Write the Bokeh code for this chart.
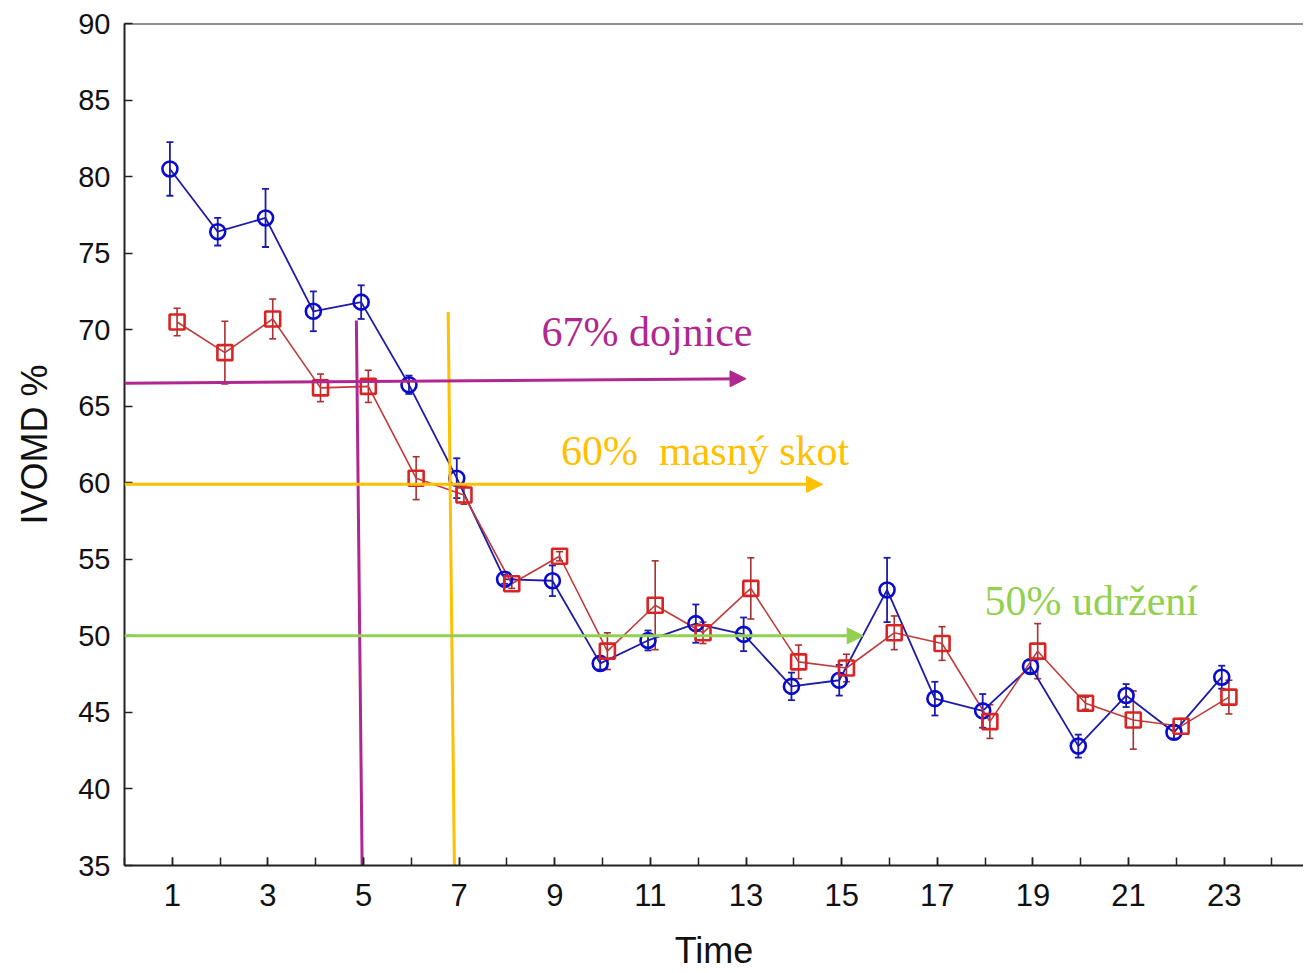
from bokeh.plotting import figure
from bokeh.models import (ColumnDataSource, Whisker, TeeHead, Arrow, NormalHead,
                          Span, Label, FixedTicker, Range1d)
from bokeh.transform import dodge
from bokeh.embed import file_html
from bokeh.resources import INLINE

# ---------------- data ----------------
time = list(range(1, 24))
blue_mean = [80.5, 76.4, 77.3, 71.2, 71.8, 66.4, 60.3, 53.7, 53.6, 48.2, 49.7, 50.8,
             50.1, 46.7, 47.1, 53.0, 45.9, 45.1, 48.0, 42.8, 46.1, 43.7, 47.3]
blue_err = [1.75, 0.9, 1.9, 1.3, 1.1, 0.6, 1.3, 0.3, 1.0, 0.4, 0.65, 1.25,
            1.1, 0.9, 1.0, 2.1, 1.1, 1.1, 0.4, 0.75, 0.75, 0.4, 0.75]
red_mean = [70.5, 68.5, 70.7, 66.2, 66.3, 60.3, 59.2, 53.4, 55.2, 49.0, 52.0, 50.2,
            53.1, 48.3, 47.9, 50.2, 49.5, 44.4, 49.0, 45.6, 44.5, 44.1, 46.0]
red_err = [0.9, 2.05, 1.3, 0.9, 1.05, 1.4, 0.6, 0.3, 0.3, 1.2, 2.9, 0.7,
           2.0, 1.1, 0.9, 1.1, 1.1, 1.1, 1.8, 0.4, 1.9, 0.5, 1.1]

y_ticks = [35, 40, 45, 50, 55, 60, 65, 70, 75, 80, 85, 90]
x_ticks = [1, 3, 5, 7, 9, 11, 13, 15, 17, 19, 21, 23]
x_minor = list(range(0, 26))

# threshold annotations
dojnice_arrow_x = [0, 13.0]
dojnice_arrow_y = [66.5, 66.8]
dojnice_vline_x = [4.85, 4.97]
dojnice_vline_y = [70.6, 35.0]
skot_arrow_x = [0, 14.6]
skot_arrow_y = [59.9, 59.9]
skot_vline_x = [6.77, 6.90]
skot_vline_y = [71.15, 35.0]
udrzeni_arrow_x = [0, 15.45]
udrzeni_arrow_y = [50.0, 50.0]

label_texts = ["67% dojnice", "60%\u00a0 masný skot", "50% udržení"]
label_x = [8.72, 9.13, 17.99]
label_y = [69.85, 62.1, 52.25]

MAGENTA = "#B0288F"
ORANGE = "#FFC000"
GREEN = "#92D050"
BLUE = "#0A0ACF"
BLUE_LINE = "#1C1CA8"
RED = "#D82424"
RED_LINE = "#C03A3A"

# ---------------- figure ----------------
p = figure(width=1303, height=973, output_backend="svg", toolbar_location=None,
           x_range=Range1d(0, 24.66), y_range=Range1d(35, 90),
           min_border_left=124, min_border_right=0, min_border_top=23,
           min_border_bottom=107)
p.outline_line_color = None
p.xgrid.visible = False
p.ygrid.visible = False
p.background_fill_color = "white"

src_b = ColumnDataSource(dict(x=time, y=blue_mean,
                              lo=[m - e for m, e in zip(blue_mean, blue_err)],
                              hi=[m + e for m, e in zip(blue_mean, blue_err)]))
src_r = ColumnDataSource(dict(x=time, y=red_mean,
                              lo=[m - e for m, e in zip(red_mean, red_err)],
                              hi=[m + e for m, e in zip(red_mean, red_err)]))

# lines
p.line(x=dodge("x", -0.05), y="y", source=src_b, line_color=BLUE_LINE, line_width=1.8)
p.line(x=dodge("x", 0.1), y="y", source=src_r, line_color=RED_LINE, line_width=1.6)

# error bars
wb = Whisker(base=dodge("x", -0.05), upper="hi", lower="lo", source=src_b,
             line_color=BLUE_LINE, line_width=1.8,
             upper_head=TeeHead(size=7, line_color=BLUE_LINE, line_width=1.8),
             lower_head=TeeHead(size=7, line_color=BLUE_LINE, line_width=1.8))
wr = Whisker(base=dodge("x", 0.1), upper="hi", lower="lo", source=src_r,
             line_color="#A83030", line_width=1.6,
             upper_head=TeeHead(size=7, line_color="#A83030", line_width=1.6),
             lower_head=TeeHead(size=7, line_color="#A83030", line_width=1.6))
p.add_layout(wb)
p.add_layout(wr)

# markers
p.scatter(x=dodge("x", -0.05), y="y", source=src_b, marker="circle", size=15,
          fill_color=None, line_color=BLUE, line_width=2.6)
p.scatter(x=dodge("x", 0.1), y="y", source=src_r, marker="square", size=15,
          fill_color=None, line_color=RED, line_width=2.6)

# threshold lines
p.line(x=dojnice_vline_x, y=dojnice_vline_y, line_color=MAGENTA, line_width=3)
p.line(x=skot_vline_x, y=skot_vline_y, line_color=ORANGE, line_width=3)

for ax, ay, col in [(dojnice_arrow_x, dojnice_arrow_y, MAGENTA),
                    (skot_arrow_x, skot_arrow_y, ORANGE),
                    (udrzeni_arrow_x, udrzeni_arrow_y, GREEN)]:
    p.add_layout(Arrow(x_start=ax[0], y_start=ay[0], x_end=ax[1], y_end=ay[1],
                       line_color=col, line_width=3,
                       end=NormalHead(size=16, fill_color=col, line_color=col)))

for t, lx, ly, col in zip(label_texts, label_x, label_y, [MAGENTA, ORANGE, GREEN]):
    p.add_layout(Label(x=lx, y=ly, text=t, text_color=col,
                       text_font="Liberation Serif", text_font_size="42px",
                       text_baseline="alphabetic", text_align="left"))

# top border line
p.add_layout(Span(location=90, dimension="width", line_color="#222222", line_width=2))

# axes
xa = p.xaxis[0]
xa.ticker = FixedTicker(ticks=x_ticks, minor_ticks=x_minor)
xa.axis_label = "Time"
xa.axis_line_width = 2
xa.axis_line_color = "#222222"
xa.major_tick_in = 8
xa.major_tick_out = 0
xa.minor_tick_in = 8
xa.minor_tick_out = 0
xa.major_tick_line_width = 1.5
xa.minor_tick_line_width = 1.5
xa.major_tick_line_color = "#222222"
xa.minor_tick_line_color = "#222222"
xa.major_label_text_font = "Liberation Sans"
xa.major_label_text_font_size = "31px"
xa.major_label_text_color = "#111111"
xa.major_label_standoff = 18
xa.axis_label_text_font = "Liberation Sans"
xa.axis_label_text_font_size = "36px"
xa.axis_label_text_font_style = "normal"
xa.axis_label_text_color = "#111111"
xa.axis_label_standoff = 21

ya = p.yaxis[0]
ya.ticker = FixedTicker(ticks=y_ticks, minor_ticks=[])
ya.axis_label = "IVOMD %"
ya.axis_line_width = 2
ya.axis_line_color = "#222222"
ya.major_tick_in = 8
ya.major_tick_out = 0
ya.major_tick_line_width = 1.5
ya.major_tick_line_color = "#222222"
ya.major_label_text_font = "Liberation Sans"
ya.major_label_text_font_size = "29px"
ya.major_label_text_color = "#111111"
ya.major_label_standoff = 14
ya.axis_label_text_font = "Liberation Sans"
ya.axis_label_text_font_size = "36px"
ya.axis_label_text_font_style = "normal"
ya.axis_label_text_color = "#111111"
ya.axis_label_standoff = 20

open("out.html", "w").write(file_html(p, INLINE))
